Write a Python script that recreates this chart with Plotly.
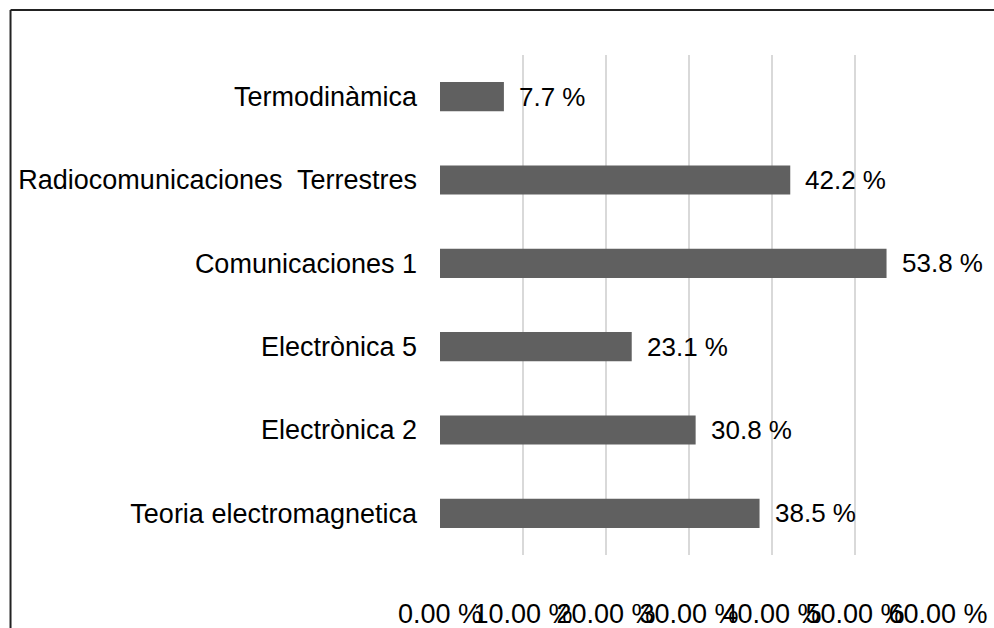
import plotly.graph_objects as go

categories = ["Teoria electromagnetica", "Electrònica 2", "Electrònica 5",
              "Comunicaciones 1", "Radiocomunicaciones\u00a0 Terrestres", "Termodinàmica"]
values = [38.5, 30.8, 23.1, 53.8, 42.2, 7.7]
tick_vals = [0, 10, 20, 30, 40, 50, 60]
tick_text = ["0.00 %", "10.00 %", "20.00 %", "30.00 %", "40.00 %", "50.00 %", "60.00 %"]
value_labels = [f"{v:.1f} %" for v in values]

FONT = "Liberation Sans, Arial, sans-serif"

fig = go.Figure(go.Bar(
    x=values, y=categories, orientation="h",
    marker=dict(color="#606060", line=dict(width=0)),
    hoverinfo="skip",
))

annotations = [
    dict(x=v, y=c, xref="x", yref="y", text=t, showarrow=False,
         xanchor="left", yanchor="middle", xshift=13,
         font=dict(family=FONT, size=26, color="#000000"))
    for v, c, t in zip(values, categories, value_labels)
]

fig.update_layout(
    width=994, height=628,
    margin=dict(l=440, r=56, t=55, b=73, autoexpand=False),
    paper_bgcolor="white", plot_bgcolor="white",
    bargap=0.65,
    showlegend=False,
    font=dict(family=FONT, size=26, color="#000000"),
    annotations=annotations,
    shapes=[
        dict(type="line", xref="paper", yref="paper", x0=-0.8624, x1=-0.8624, y0=1.09, y1=-0.3,
             line=dict(color="#222222", width=2)),
        dict(type="line", xref="paper", yref="paper", x0=-0.8624, x1=1.3, y0=1.09, y1=1.09,
             line=dict(color="#222222", width=2)),
    ],
)
fig.update_xaxes(range=[0, 60], tickvals=tick_vals, ticktext=tick_text,
                 tickangle=0, automargin=False,
                 showgrid=True, gridcolor="#d9d9d9", gridwidth=1.5,
                 zeroline=False, showline=False, ticks="",
                 ticklabelstandoff=40,
                 tickfont=dict(family=FONT, size=27, color="#000000"))
fig.update_yaxes(categoryorder="array", categoryarray=categories,
                 automargin=False,
                 showgrid=False, zeroline=False, showline=False, ticks="",
                 ticklabelstandoff=22,
                 tickfont=dict(family=FONT, size=27, color="#000000"))

fig.write_html("out.html", config={"displayModeBar": False},
               post_script="document.body.style.margin='0';document.body.style.padding='0';")
